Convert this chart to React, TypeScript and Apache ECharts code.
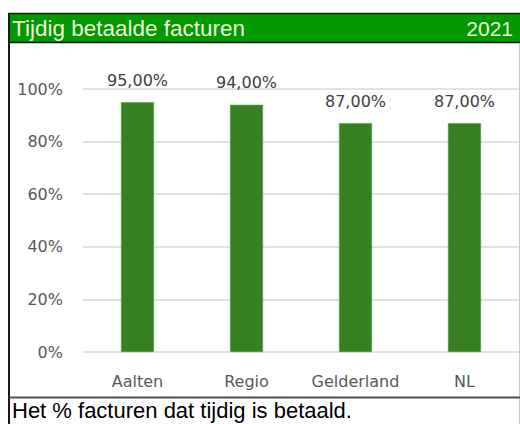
import React, { useEffect, useRef } from "react";
import * as echarts from "echarts";

const categories = ["Aalten", "Regio", "Gelderland", "NL"];
const values = [0.95, 0.94, 0.87, 0.87];
const titleText = "Tijdig betaalde facturen";
const yearText = "2021";
const footerText = "Het % facturen dat tijdig is betaald.";

export default function App() {
  const ref = useRef<HTMLDivElement>(null);
  useEffect(() => {
    if (!ref.current) return;
    const chart = echarts.init(ref.current, null, { renderer: "svg", width: 520, height: 424 });
    chart.setOption({
      animation: false,
      backgroundColor: "#ffffff",
      grid: { left: 83, right: 1, top: 89, bottom: 72, containLabel: false },
      xAxis: {
        type: "category",
        data: categories,
        axisLine: { show: false },
        axisTick: { show: false },
        axisLabel: { interval: 0, color: "#595959", fontSize: 16, fontFamily: "DejaVu Sans", margin: 21 },
      },
      yAxis: {
        type: "value",
        min: 0,
        max: 1,
        interval: 0.2,
        axisLine: { show: false },
        axisTick: { show: false },
        splitLine: { lineStyle: { color: "#d9d9d9", width: 1.5 } },
        axisLabel: {
          color: "#595959",
          fontSize: 16,
          fontFamily: "DejaVu Sans",
          margin: 20,
          formatter: (v: number) => Math.round(v * 100) + "%",
        },
      },
      series: [
        {
          type: "bar",
          data: values,
          barWidth: 33,
          itemStyle: { color: "#387f22", borderColor: "#5a9a45", borderWidth: 0.5 },
          label: {
            show: true,
            position: "top",
            distance: 14,
            color: "#404040",
            fontSize: 16,
            fontFamily: "DejaVu Sans",
            formatter: (p: any) => (p.value * 100).toFixed(2).replace(".", ",") + "%",
          },
        },
      ],
      graphic: [
        { type: "rect", shape: { x: 9, y: 13.5, width: 512, height: 29 }, style: { fill: "#009900", stroke: "#1a1a1a", lineWidth: 1.5 }, z: 10 },
        { type: "text", x: 12, y: 28.5, style: { text: titleText, fill: "#f2f5d8", fontSize: 22.5, fontFamily: "Liberation Sans", verticalAlign: "middle", align: "left" }, z: 11 },
        { type: "text", x: 513, y: 28.5, style: { text: yearText, fill: "#f2f5d8", fontSize: 21, fontFamily: "Liberation Sans", verticalAlign: "middle", align: "right" }, z: 11 },
        { type: "line", shape: { x1: 9, y1: 13, x2: 9, y2: 424 }, style: { stroke: "#1a1a1a", lineWidth: 2 }, z: 10 },
        { type: "line", shape: { x1: 519.5, y1: 43, x2: 519.5, y2: 424 }, style: { stroke: "#c8c8c8", lineWidth: 1 }, z: 10 },
        { type: "line", shape: { x1: 9, y1: 397.5, x2: 520, y2: 397.5 }, style: { stroke: "#505050", lineWidth: 2 }, z: 10 },
        { type: "text", x: 12, y: 410.5, style: { text: footerText, fill: "#000000", fontSize: 22, fontFamily: "Liberation Sans", verticalAlign: "middle", align: "left" }, z: 11 },
      ],
    });
    return () => chart.dispose();
  }, []);
  return <div ref={ref} style={{ position: "fixed", left: 0, top: 0, width: 520, height: 424 }} />;
}
